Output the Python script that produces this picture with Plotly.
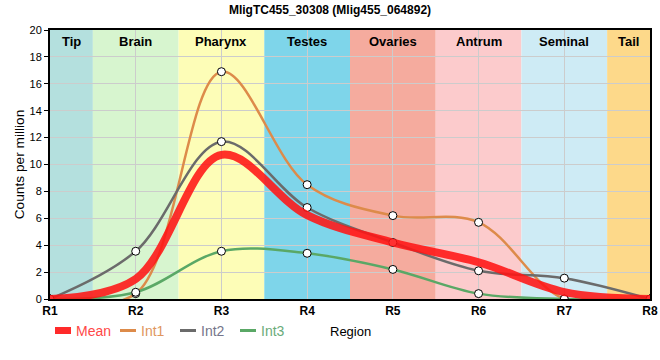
import plotly.graph_objects as go

regions = ["R1", "R2", "R3", "R4", "R5", "R6", "R7", "R8"]
region_x = [1, 2, 3, 4, 5, 6, 7, 8]
int1 = [0, 0.4, 16.9, 8.5, 6.2, 5.7, 0, 0]
int2 = [0, 3.55, 11.7, 6.8, 4.2, 2.1, 1.55, 0]
int3 = [0, 0.5, 3.55, 3.4, 2.2, 0.4, 0, 0]
mean = [round((a + b + c) / 3, 3) for a, b, c in zip(int1, int2, int3)]

tissues = ["Tip", "Brain", "Pharynx", "Testes", "Ovaries", "Antrum", "Seminal", "Tail"]
tissue_start = [1, 1.5, 2.5, 3.5, 4.5, 5.5, 6.5, 7.5]
tissue_end = [1.5, 2.5, 3.5, 4.5, 5.5, 6.5, 7.5, 8]
tissue_colors = ["#b4e0de", "#d7f5cf", "#fdfdb7", "#7ed5ea", "#f5ab9e", "#fccbcc", "#ceebf5", "#fdd98a"]

series_names = ["Mean", "Int1", "Int2", "Int3"]
series_values = [mean, int1, int2, int3]
line_colors = ["rgba(255,20,20,0.88)", "#dd8b4a", "#6b6b6b", "#5aa866"]
text_colors = ["#ff4848", "#e0965e", "#75758a", "#6aab7a"]
line_widths = [8, 2.5, 2.5, 2.5]

title = "MligTC455_30308 (Mlig455_064892)"
FONT = "Liberation Sans, Arial, sans-serif"

# plot area in pixels (for paper-coordinate layout items)
L, R, T, B = 50, 650, 30, 299
def px(x):
    return (x - L) / (R - L)
def py(y):
    return (B - y) / (B - T)

fig = go.Figure()

for i in [1, 2, 3, 0]:
    fig.add_trace(go.Scatter(
        x=region_x, y=series_values[i],
        mode="lines+markers" if i > 0 else "lines",
        name=series_names[i], showlegend=False,
        line=dict(color=line_colors[i], width=line_widths[i], shape="spline", smoothing=1.0),
        marker=dict(size=8, color="white", line=dict(color="black", width=1)),
    ))

for t, s, e, c in zip(tissues, tissue_start, tissue_end, tissue_colors):
    fig.add_shape(type="rect", xref="x", yref="paper", x0=s, x1=e, y0=0, y1=1,
                  fillcolor=c, line=dict(width=0), layer="below")
    fig.add_annotation(x=(s + e) / 2, xref="x", y=1, yref="paper", yanchor="top",
                       yshift=-2, text=f"<b>{t}</b>", showarrow=False,
                       font=dict(family=FONT, size=13, color="black"))

# custom legend
sym_x = [55, 120, 180, 240]
leg_y = 330.5
for i, name in enumerate(series_names):
    if i == 0:
        fig.add_shape(type="rect", xref="paper", yref="paper",
                      x0=px(sym_x[i]), x1=px(sym_x[i] + 16), y0=py(leg_y + 3.5), y1=py(leg_y - 3.5),
                      fillcolor="#ff2a2a", line=dict(width=0))
    else:
        fig.add_shape(type="line", xref="paper", yref="paper",
                      x0=px(sym_x[i]), x1=px(sym_x[i] + 16), y0=py(leg_y), y1=py(leg_y),
                      line=dict(color=line_colors[i], width=3))
    fig.add_annotation(x=px(sym_x[i] + 19), y=py(leg_y), xref="paper", yref="paper",
                       xanchor="left", yanchor="middle", showarrow=False,
                       text=name, font=dict(family=FONT, size=14, color=text_colors[i]))

fig.add_annotation(x=0.5, y=py(331), xref="paper", yref="paper", xanchor="center",
                   yanchor="middle", showarrow=False, text="Region",
                   font=dict(family=FONT, size=13, color="black"))

fig.update_layout(
    width=660, height=360,
    margin=dict(l=L, r=660 - R, t=T, b=360 - B),
    paper_bgcolor="white", plot_bgcolor="white",
    title=dict(text=f"<b>{title}</b>", x=0.5, xanchor="center", y=1 - 10 / 360, yanchor="middle",
               font=dict(family=FONT, size=12, color="black")),
    font=dict(family=FONT, size=11, color="black"),
    showlegend=False,
)
fig.update_xaxes(
    range=[1, 8], tickvals=region_x, ticktext=[f"<b>{r}</b>" for r in regions],
    tickfont=dict(family=FONT, size=12, color="black"),
    showgrid=True, gridcolor="#cccccc", gridwidth=1,
    showline=True, linecolor="black", linewidth=2, mirror=True,
    ticks="", zeroline=False, automargin=False,
)
fig.update_yaxes(
    range=[0, 20], tickvals=list(range(0, 21, 2)),
    tickfont=dict(family=FONT, size=11, color="black"),
    showgrid=True, gridcolor="#cccccc", gridwidth=1,
    showline=True, linecolor="black", linewidth=2, mirror=True,
    ticks="outside", ticklen=4, tickcolor="black", zeroline=False, automargin=False,
    title=dict(text="Counts per million", font=dict(family=FONT, size=13.7), standoff=2),
)

fig.write_html("out.html", config={"displayModeBar": False},
               post_script="document.body.style.margin='0';")
